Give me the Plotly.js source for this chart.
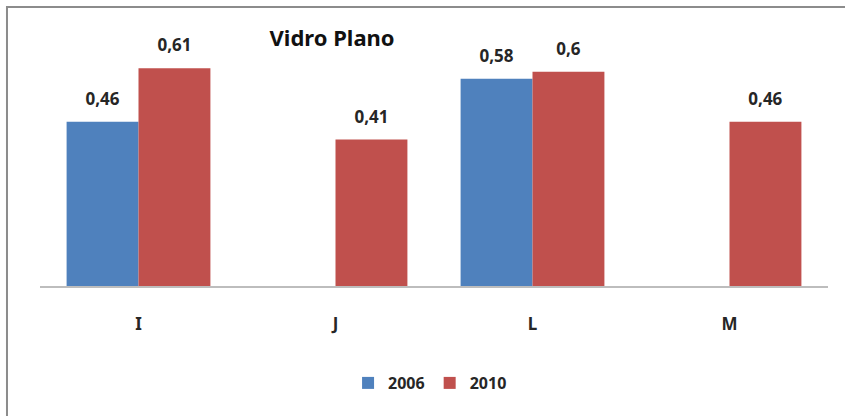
<!DOCTYPE html>
<html>
<head>
<meta charset="utf-8">
<script src="https://cdn.plot.ly/plotly-3.0.1.min.js"></script>
<style>
  html, body { margin: 0; padding: 0; background: #fff; }
  #chart { width: 845px; height: 416px; }
</style>
</head>
<body>
<div id="chart"></div>
<script>
// Vidro Plano: indicator per category, 2006 vs 2010
const categories = ['I', 'J', 'L', 'M'];
const values2006 = [0.46, null, 0.58, null];
const values2010 = [0.61, 0.41, 0.60, 0.46];
const seriesNames = ['2006', '2010'];

const FONT = 'Noto Sans, Liberation Sans, sans-serif';
// small base size keeps the spacer line short; the value itself is set larger
const labelFont = { family: FONT, size: 10, color: '#262626', weight: 'bold' };
const labelTemplate = '<span style="font-size:17px">%{y:.2~f}</span><br><span style="font-size:5px"> </span>';

const traces = [
  {
    type: 'bar', name: seriesNames[0], x: categories, y: values2006,
    marker: { color: '#4F81BD' },
    texttemplate: labelTemplate, textposition: 'outside', cliponaxis: false,
    textfont: labelFont, hoverinfo: 'x+y'
  },
  {
    type: 'bar', name: seriesNames[1], x: categories, y: values2010,
    marker: { color: '#C0504D' },
    texttemplate: labelTemplate, textposition: 'outside', cliponaxis: false,
    textfont: labelFont, hoverinfo: 'x+y'
  }
];

const layout = {
  width: 845, height: 416,
  margin: { l: 40, r: 17, t: 36, b: 130 },
  paper_bgcolor: '#ffffff', plot_bgcolor: '#ffffff',
  separators: ',.',
  barmode: 'group', bargap: 0.27, bargroupgap: 0,
  title: {
    text: '<b>Vidro Plano</b>',
    font: { family: FONT, size: 22, color: '#111' },
    x: 0.393, xanchor: 'center', xref: 'container',
    y: 0.909, yanchor: 'middle', yref: 'container'
  },
  xaxis: {
    type: 'category',
    showline: true, linecolor: '#bdbdbd', linewidth: 1.5,
    showgrid: false, ticks: '', ticklabelstandoff: 22,
    tickfont: { family: FONT, size: 17, color: '#262626', weight: 'bold' }
  },
  yaxis: {
    range: [0, 0.7], visible: false, showgrid: false, zeroline: false, fixedrange: true
  },
  showlegend: true,
  legend: {
    orientation: 'h', x: 0.495, xanchor: 'center', y: -0.388, yanchor: 'middle',
    font: { family: FONT, size: 16, color: '#262626', weight: 'bold' },
    itemwidth: 30, traceorder: 'normal'
  },
  shapes: [
    {
      type: 'rect', xref: 'paper', yref: 'paper',
      x0: -0.0419, x1: 1.05, y0: -0.7, y1: 1.116,
      line: { color: '#8c8c8c', width: 2 }, fillcolor: 'rgba(0,0,0,0)', layer: 'below'
    }
  ]
};

Plotly.newPlot('chart', traces, layout, { displayModeBar: false, staticPlot: true });
</script>
</body>
</html>
